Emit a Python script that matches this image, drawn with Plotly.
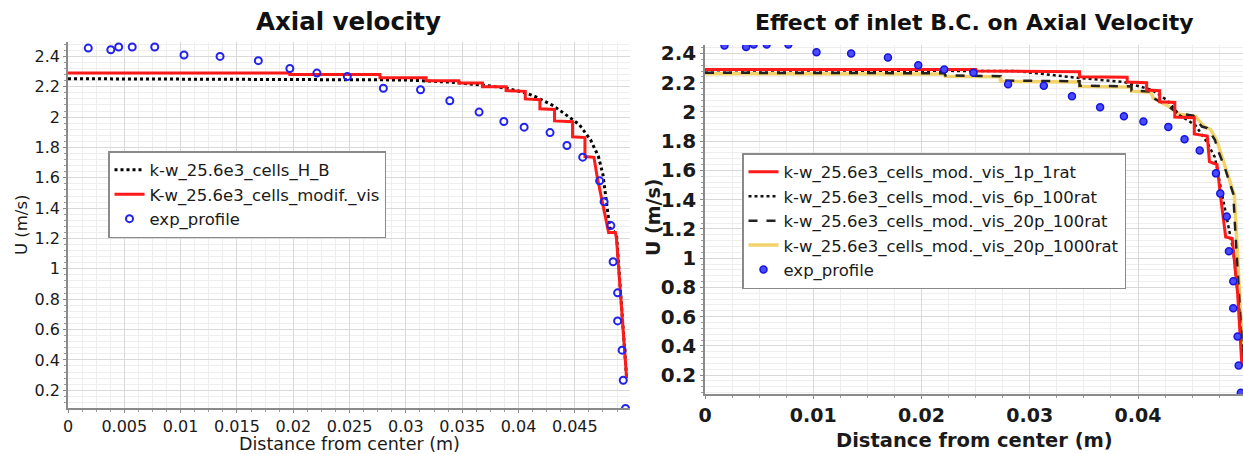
import plotly.graph_objects as go

# ---------------- data ----------------
exp_x = [0.0018, 0.0038, 0.0045, 0.0057, 0.0077, 0.0103, 0.0135, 0.0169, 0.0197, 0.0221,
         0.0248, 0.0280, 0.0313, 0.0339, 0.0365, 0.0387, 0.0405, 0.0428, 0.0443, 0.0457,
         0.0472, 0.0476, 0.0482, 0.0484, 0.0488, 0.0488, 0.0492, 0.0493, 0.0495]
exp_y = [2.455, 2.444, 2.462, 2.462, 2.462, 2.409, 2.400, 2.372, 2.320, 2.290,
         2.268, 2.190, 2.180, 2.108, 2.033, 1.971, 1.934, 1.898, 1.813, 1.736,
         1.580, 1.443, 1.285, 1.047, 0.842, 0.657, 0.464, 0.266, 0.080]

# left chart
hb_x = [0, 0.0270, 0.0300, 0.0340, 0.0370, 0.0390, 0.0406, 0.0415, 0.0431, 0.0446,
        0.0454, 0.0464, 0.0471, 0.0475, 0.0478, 0.0481, 0.0487, 0.0496]
hb_y = [2.253, 2.250, 2.245, 2.230, 2.210, 2.190, 2.160, 2.135, 2.075, 1.995,
        1.950, 1.850, 1.740, 1.620, 1.450, 1.270, 1.230, 0.280]
mod_x = [0, 0.0197, 0.0197, 0.0277, 0.0277, 0.0318, 0.0318, 0.0347, 0.0347, 0.0368,
         0.0368, 0.0389, 0.0389, 0.0406, 0.0406, 0.0419, 0.0419, 0.0432, 0.0432, 0.0448,
         0.0448, 0.0459, 0.0459, 0.0467, 0.0470, 0.0474, 0.0479, 0.0480, 0.0486, 0.0487, 0.0496]
mod_y = [2.290, 2.290, 2.280, 2.280, 2.260, 2.260, 2.240, 2.240, 2.225, 2.225,
         2.200, 2.200, 2.175, 2.170, 2.120, 2.115, 2.055, 2.050, 1.975, 1.970,
         1.870, 1.865, 1.740, 1.735, 1.600, 1.450, 1.260, 1.240, 1.240, 1.200, 0.280]

# right chart
r1_x = [0, 0.0250, 0.0250, 0.0346, 0.0346, 0.0390, 0.0390, 0.0408, 0.0408, 0.0420,
        0.0420, 0.0434, 0.0434, 0.0452, 0.0452, 0.0464, 0.0466, 0.0473, 0.0476, 0.0481,
        0.0487, 0.0492, 0.0496]
r1_y = [2.290, 2.290, 2.280, 2.275, 2.240, 2.238, 2.205, 2.200, 2.150, 2.145,
        2.070, 2.065, 1.965, 1.960, 1.850, 1.835, 1.660, 1.640, 1.440, 1.145,
        1.135, 0.760, 0.260]
r6_x = [0, 0.0288, 0.0342, 0.0387, 0.0413, 0.0427, 0.0438, 0.0453, 0.0464, 0.0471,
        0.0476, 0.0482, 0.0488, 0.0493, 0.0497]
r6_y = [2.285, 2.280, 2.235, 2.205, 2.150, 2.080, 1.980, 1.910, 1.790, 1.690,
        1.500, 1.280, 1.050, 0.700, 0.270]
r20_x = [0, 0.0221, 0.0222, 0.0273, 0.0273, 0.0346, 0.0346, 0.0394, 0.0394, 0.0411,
         0.0413, 0.0427, 0.0437, 0.0451, 0.0459, 0.0464, 0.0471, 0.0474, 0.0481, 0.0488,
         0.0490, 0.0493, 0.0497]
r20_y = [2.268, 2.265, 2.250, 2.245, 2.215, 2.210, 2.180, 2.175, 2.147, 2.140,
         2.100, 2.045, 1.990, 1.975, 1.900, 1.890, 1.810, 1.737, 1.600, 1.440,
         1.170, 0.760, 0.300]
r1000_x = [0, 0.0221, 0.0222, 0.0273, 0.0273, 0.0346, 0.0346, 0.0394, 0.0394, 0.0412,
           0.0414, 0.0428, 0.0438, 0.0453, 0.0461, 0.0467, 0.0473, 0.0476, 0.0482, 0.0489,
           0.0491, 0.0494, 0.0497]
r1000_y = [2.262, 2.260, 2.245, 2.240, 2.210, 2.205, 2.175, 2.170, 2.142, 2.135,
           2.095, 2.040, 1.985, 1.970, 1.900, 1.880, 1.800, 1.730, 1.590, 1.430,
           1.160, 0.750, 0.300]

x_ticks_left = [0, 0.005, 0.01, 0.015, 0.02, 0.025, 0.03, 0.035, 0.04, 0.045]
x_ticks_right = [0, 0.01, 0.02, 0.03, 0.04]
y_ticks = [0.2, 0.4, 0.6, 0.8, 1.0, 1.2, 1.4, 1.6, 1.8, 2.0, 2.2, 2.4]

# ---------------- figure ----------------
W, H = 1243, 454
FONT = "DejaVu Sans"
BLUE = "#2222ee"

def px_x(p):
    return p / W

def px_y(p):
    return 1 - p / H

fig = go.Figure()

# left traces
fig.add_trace(go.Scatter(x=hb_x, y=hb_y, mode="lines", name="k-w_25.6e3_cells_H_B",
                         line=dict(color="black", width=3, dash="dot"),
                         xaxis="x", yaxis="y", legend="legend"))
fig.add_trace(go.Scatter(x=mod_x, y=mod_y, mode="lines", name="K-w_25.6e3_cells_modif._vis",
                         line=dict(color="#ff1a1a", width=3),
                         xaxis="x", yaxis="y", legend="legend"))
fig.add_trace(go.Scatter(x=exp_x, y=exp_y, mode="markers", name="exp_profile",
                         marker=dict(symbol="circle-open", size=7, color=BLUE, line=dict(width=2, color=BLUE)),
                         xaxis="x", yaxis="y", legend="legend"))

# right traces
fig.add_trace(go.Scatter(x=r1000_x, y=r1000_y, mode="lines", name="k-w_25.6e3_cells_mod._vis_20p_1000rat",
                         line=dict(color="#f2d36b", width=3.5), legendrank=4,
                         xaxis="x2", yaxis="y2", legend="legend2"))
fig.add_trace(go.Scatter(x=r20_x, y=r20_y, mode="lines", name="k-w_25.6e3_cells_mod._vis_20p_100rat",
                         line=dict(color="#222222", width=2.5, dash="dash"), legendrank=3,
                         xaxis="x2", yaxis="y2", legend="legend2"))
fig.add_trace(go.Scatter(x=r6_x, y=r6_y, mode="lines", name="k-w_25.6e3_cells_mod._vis_6p_100rat",
                         line=dict(color="#111111", width=2.5, dash="dot"), legendrank=2,
                         xaxis="x2", yaxis="y2", legend="legend2"))
fig.add_trace(go.Scatter(x=r1_x, y=r1_y, mode="lines", name="k-w_25.6e3_cells_mod._vis_1p_1rat",
                         line=dict(color="#ff1a1a", width=3), legendrank=1,
                         xaxis="x2", yaxis="y2", legend="legend2"))
fig.add_trace(go.Scatter(x=exp_x, y=exp_y, mode="markers", name="exp_profile",
                         marker=dict(symbol="circle", size=7, color="#4a4aff", line=dict(width=1.5, color="#1515dd")),
                         legendrank=5, xaxis="x2", yaxis="y2", legend="legend2"))

grid_major = "#d9d9d9"
grid_minor = "#eeeeee"

def axis(domain, rng, tickvals, fsize, bold, minor_dtick, anchor):
    return dict(
        domain=domain, range=rng, anchor=anchor, automargin=False,
        tickmode="array", tickvals=tickvals,
        showgrid=True, gridcolor=grid_major, gridwidth=1,
        showline=True, linecolor="#8a8a8a", linewidth=1.5,
        ticks="outside", ticklen=3, tickcolor="#8a8a8a",
        tickfont=dict(family=FONT, size=fsize, color="#1a1a1a", weight="bold" if bold else "normal"),
        zeroline=False, mirror=False,
        minor=dict(dtick=minor_dtick, tick0=0, showgrid=True, gridcolor=grid_minor, gridwidth=1,
                   ticks="outside", ticklen=2, tickcolor="#9a9a9a"),
    )

xl = axis([68 / W, 630 / W], [0, 0.0499], x_ticks_left, 16, False, 0.00125, "y")
yl = axis([px_y(408), px_y(42)], [0.083, 2.495], y_ticks, 16, False, 0.04, "x")
xr = axis([705 / W, 1.0], [0, 0.0497], x_ticks_right, 19, True, 0.0025, "y2")
yr = axis([px_y(394), px_y(45)], [0.071, 2.458], y_ticks, 20, True, 0.04, "x2")

fig.update_layout(
    width=W, height=H,
    margin=dict(l=0, r=0, t=0, b=0),
    paper_bgcolor="white", plot_bgcolor="white",
    xaxis=xl, yaxis=yl, xaxis2=xr, yaxis2=yr,
    legend=dict(x=px_x(108), y=px_y(151), xanchor="left", yanchor="top",
                bgcolor="white", bordercolor="#8a8a8a", borderwidth=1.5,
                font=dict(family=FONT, size=16.5, color="#1a1a1a"),
                itemwidth=30, tracegroupgap=0),
    legend2=dict(x=px_x(742), y=px_y(153), xanchor="left", yanchor="top",
                 bgcolor="white", bordercolor="#8a8a8a", borderwidth=1.5,
                 font=dict(family=FONT, size=16.5, color="#1a1a1a"),
                 itemwidth=30, tracegroupgap=0, traceorder="normal"),
    showlegend=True,
    annotations=[
        dict(text="<b>Axial velocity</b>", x=px_x(348), y=px_y(21), xref="paper", yref="paper",
             xanchor="center", yanchor="middle", showarrow=False,
             font=dict(family=FONT, size=24.5, color="#111")),
        dict(text="<b>Effect of inlet B.C. on Axial Velocity</b>", x=px_x(974), y=px_y(23),
             xref="paper", yref="paper", xanchor="center", yanchor="middle", showarrow=False,
             font=dict(family=FONT, size=22, color="#111")),
        dict(text="Distance from center (m)", x=px_x(349), y=px_y(444), xref="paper", yref="paper",
             xanchor="center", yanchor="middle", showarrow=False,
             font=dict(family=FONT, size=17.5, color="#1a1a1a")),
        dict(text="<b>Distance from center (m)</b>", x=px_x(974), y=px_y(440), xref="paper", yref="paper",
             xanchor="center", yanchor="middle", showarrow=False,
             font=dict(family=FONT, size=19.5, color="#1a1a1a")),
        dict(text="U (m/s)", x=px_x(22), y=px_y(225), xref="paper", yref="paper",
             xanchor="center", yanchor="middle", showarrow=False, textangle=-90,
             font=dict(family=FONT, size=16.5, color="#1a1a1a")),
        dict(text="<b>U (m/s)</b>", x=px_x(653), y=px_y(218), xref="paper", yref="paper",
             xanchor="center", yanchor="middle", showarrow=False, textangle=-90,
             font=dict(family=FONT, size=19, color="#1a1a1a")),
    ],
)

fig.write_html("out.html")
